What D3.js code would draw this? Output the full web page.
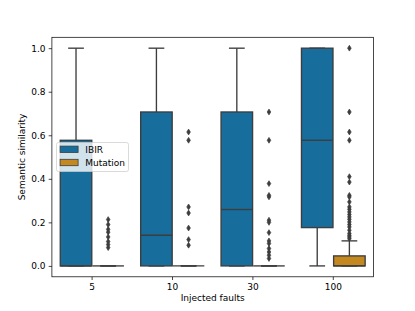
<!DOCTYPE html>
<html>
<head>
<meta charset="utf-8">
<script src="https://cdn.jsdelivr.net/npm/d3@7"></script>
<style>
  body { margin: 0; background: #fff; }
  text { font-family: "DejaVu Sans", sans-serif; fill: #000; }
</style>
</head>
<body>
<div id="chart"></div>
<script>
// categories and hue groups
const faults = ["5", "10", "30", "100"];
const groups = ["IBIR", "Mutation"];
const yTicks = [0.0, 0.2, 0.4, 0.6, 0.8, 1.0];

// box stats per fault count: [whisker low, q1, median, q3, whisker high]
const ibirStats = [
  [0, 0, 0, 0.577, 1.0],
  [0, 0, 0.141, 0.707, 1.0],
  [0, 0, 0.259, 0.707, 1.0],
  [0, 0.176, 0.577, 1.0, 1.0]
];
const mutationStats = [
  [0, 0, 0, 0, 0],
  [0, 0, 0, 0, 0],
  [0, 0, 0, 0, 0],
  [0, 0, 0, 0.046, 0.115]
];
// outliers of the Mutation boxes
const mutationOutliers = [
  [0.213, 0.19, 0.168, 0.155, 0.133, 0.112, 0.098, 0.084],
  [0.615, 0.577, 0.271, 0.243, 0.174, 0.121, 0.095],
  [0.707, 0.577, 0.378, 0.324, 0.317, 0.21, 0.2, 0.153, 0.115, 0.103, 0.08, 0.064, 0.049, 0.034],
  [1.0, 0.707, 0.615, 0.577, 0.41, 0.385, 0.324, 0.317, 0.294, 0.271, 0.26, 0.248, 0.236,
   0.225, 0.214, 0.202, 0.19, 0.179, 0.164, 0.149, 0.14, 0.133, 0.125]
];

const W = 415, H = 311;
const margin = {top: 37.3, right: 41.5, bottom: 34.2, left: 51.9};
const width = W - margin.left - margin.right,
      height = H - margin.top - margin.bottom;
const colors = {IBIR: "#176d9c", Mutation: "#c38820"};
const lineColor = "#3d3d3d";

const svg = d3.select("#chart").append("svg")
  .attr("width", W).attr("height", H);
const g = svg.append("g")
  .attr("transform", "translate(" + margin.left + "," + margin.top + ")");

const x = d3.scaleBand().domain(faults).range([0, width]).padding(0);
const y = d3.scaleLinear().domain([-0.05, 1.05]).range([height, 0]);
const hueX = d3.scaleBand().domain(groups)
  .range([0.1 * x.bandwidth(), 0.9 * x.bandwidth()]);
const boxW = hueX.bandwidth() * 0.98;

function drawBox(stats, fault, grp) {
  const cx = x(fault) + hueX(grp) + hueX.bandwidth() / 2;
  const [lo, q1, med, q3, hi] = stats;
  const bg = g.append("g");
  // whiskers
  bg.append("line").attr("x1", cx).attr("x2", cx).attr("y1", y(q3)).attr("y2", y(hi));
  bg.append("line").attr("x1", cx).attr("x2", cx).attr("y1", y(q1)).attr("y2", y(lo));
  bg.append("line").attr("x1", cx - boxW / 4).attr("x2", cx + boxW / 4).attr("y1", y(hi)).attr("y2", y(hi));
  bg.append("line").attr("x1", cx - boxW / 4).attr("x2", cx + boxW / 4).attr("y1", y(lo)).attr("y2", y(lo));
  bg.append("rect")
    .attr("x", cx - boxW / 2).attr("width", boxW)
    .attr("y", y(q3)).attr("height", Math.max(0, y(q1) - y(q3)))
    .attr("fill", colors[grp]);
  bg.append("line").attr("x1", cx - boxW / 2).attr("x2", cx + boxW / 2).attr("y1", y(med)).attr("y2", y(med));
  bg.selectAll("line,rect").attr("stroke", lineColor).attr("stroke-width", 1.35);
  return cx;
}

faults.forEach((f, i) => {
  drawBox(ibirStats[i], f, "IBIR");
  const cx = drawBox(mutationStats[i], f, "Mutation");
  g.selectAll(null).data(mutationOutliers[i]).enter().append("path")
    .attr("d", "M0,-2.9L1.8,0L0,2.9L-1.8,0Z")
    .attr("transform", d => "translate(" + cx + "," + y(d) + ")")
    .attr("fill", lineColor).attr("stroke", lineColor).attr("stroke-width", 0.7);
});

// axes
const yAxis = g.append("g").call(d3.axisLeft(y).tickValues(yTicks).tickFormat(d3.format(".1f")).tickSize(3.2).tickPadding(3.2));
const xAxis = g.append("g").attr("transform", "translate(0," + height + ")")
  .call(d3.axisBottom(x).tickSize(3.2).tickPadding(3.2));
[xAxis, yAxis].forEach(a => {
  a.select(".domain").remove();
  a.selectAll("line").attr("stroke", "#000").attr("stroke-width", 0.72);
  a.selectAll("text").style("font-family", "DejaVu Sans").style("font-size", "9px");
});
g.append("rect").attr("width", width).attr("height", height)
  .attr("fill", "none").attr("stroke", "#000").attr("stroke-width", 0.72);

svg.append("text").attr("x", margin.left + width / 2).attr("y", 301)
  .attr("text-anchor", "middle").style("font-size", "9px").text("Injected faults");
svg.append("text").attr("transform", "translate(25," + (margin.top + height / 2) + ") rotate(-90)")
  .attr("text-anchor", "middle").style("font-size", "9px").text("Semantic similarity");

// legend
const lg = svg.append("g").attr("transform", "translate(56.5,142.5)");
lg.append("rect").attr("width", 72).attr("height", 29).attr("rx", 2)
  .attr("fill", "#fff").attr("fill-opacity", 0.8)
  .attr("stroke", "#ccc").attr("stroke-width", 0.72);
groups.forEach((grp, i) => {
  lg.append("rect").attr("x", 3.6).attr("y", 3.6 + i * 13.2).attr("width", 18).attr("height", 6.4)
    .attr("fill", colors[grp]).attr("stroke", lineColor).attr("stroke-width", 0.8);
  lg.append("text").attr("x", 28.8).attr("y", 10.2 + i * 13.2)
    .style("font-size", "9px").text(grp);
});
</script>
</body>
</html>
